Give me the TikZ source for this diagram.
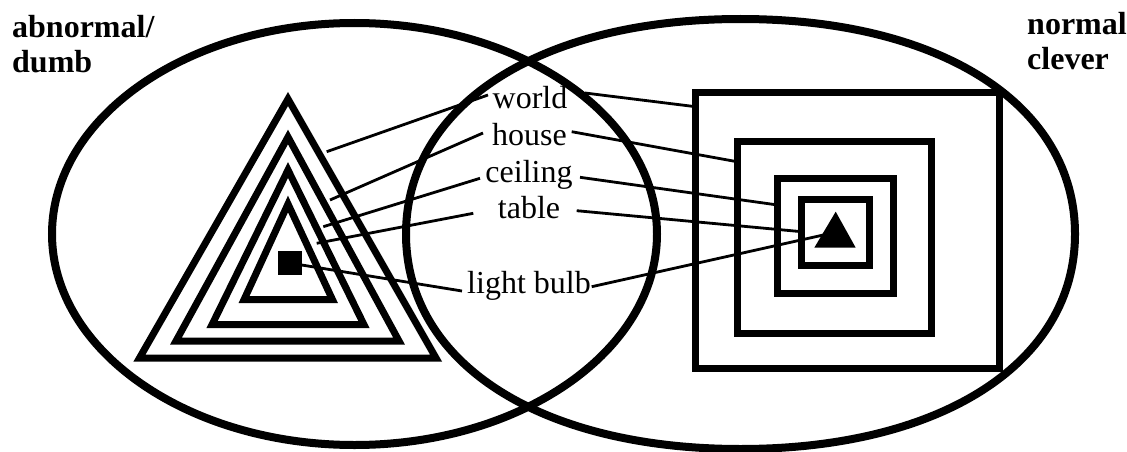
\documentclass[tikz,border=0pt]{standalone}
\usepackage{fontspec}
\setmainfont{Liberation Serif}
\begin{document}
\begin{tikzpicture}[x=1pt,y=-1pt,
  ell/.style={line width=8pt},
  shp/.style={line width=7pt,line join=miter},
  conn/.style={line width=2.8pt},
  lbl/.style={inner sep=0pt,anchor=base,font=\fontsize{32}{38}\selectfont},
  side/.style={inner sep=0pt,anchor=base west,font=\fontsize{32}{35}\selectfont\bfseries}]
\useasboundingbox (0,0) rectangle (1127,452);
% circles
\draw[ell] (354.5,234) ellipse [x radius=302.5pt, y radius=211pt];
\draw[ell] (1075,234) .. controls (1075,363) and (941.2,449) .. (740.5,449)
  .. controls (539.8,449) and (406,363) .. (406,234)
  .. controls (406,105) and (539.8,19) .. (740.5,19)
  .. controls (941.2,19) and (1075,105) .. cycle;
% triangles
\draw[shp] (288,99) -- (436,358) -- (139.5,358) -- cycle;
\draw[shp] (288,137) -- (399,341) -- (176,341) -- cycle;
\draw[shp] (288,170) -- (364,324.7) -- (212,324.7) -- cycle;
\draw[shp] (288,204) -- (332.5,299.7) -- (244,299.7) -- cycle;
\node[fill=black,minimum size=24pt,inner sep=0pt] (sq) at (289.5,263) {};
% squares
\draw[shp] (695.5,92) rectangle (999,368);
\draw[shp] (737,141.7) rectangle (931,333);
\draw[shp] (777.7,178.3) rectangle (893.7,293.3);
\draw[shp] (801.7,199) rectangle (869,265.8);
\fill (835.7,211.7) -- (855.7,247.7) -- (814.3,247.7) -- cycle;
% labels
\node[lbl] (world) at (530,108) {world};
\node[lbl] (house) at (529.5,145) {house};
\node[lbl] (ceiling) at (529,182) {ceiling};
\node[lbl] (table) at (529,218) {table};
\node[lbl] (bulb) at (529,293) {light bulb};
\node[side] (abn1) at (12,38) {abnormal/};
\node[side] (abn2) at (12,73) {dumb};
\node[side] (norm1) at (1027,35) {normal};
\node[side] (norm2) at (1027,70) {clever};
% connector end points
\coordinate (t1) at (326.7,151.7);
\coordinate (t2) at (330,200);
\coordinate (t3) at (323.3,226.7);
\coordinate (t4) at (316.7,243.3);
\coordinate (t5) at (301.7,265);
\coordinate (wl) at (488,95);
\coordinate (hl) at (483,133);
\coordinate (cl) at (480,178.3);
\coordinate (tl) at (473.3,213.3);
\coordinate (bl) at (462,291);
\coordinate (wr) at (585,93);
\coordinate (hr) at (571.7,131.7);
\coordinate (cr) at (580,177.3);
\coordinate (tr) at (576.7,210.7);
\coordinate (br) at (591.7,286.7);
\coordinate (s1) at (695.5,106.7);
\coordinate (s2) at (737,161.7);
\coordinate (s3) at (777.7,205);
\coordinate (s4) at (801.7,231.7);
\coordinate (s5) at (823.3,235);
\draw[conn] (t1) -- (wl);
\draw[conn] (t2) -- (hl);
\draw[conn] (t3) -- (cl);
\draw[conn] (t4) -- (tl);
\draw[conn] (t5) -- (bl);
\draw[conn] (wr) -- (s1);
\draw[conn] (hr) -- (s2);
\draw[conn] (cr) -- (s3);
\draw[conn] (tr) -- (s4);
\draw[conn] (br) -- (s5);
\end{tikzpicture}
\end{document}
